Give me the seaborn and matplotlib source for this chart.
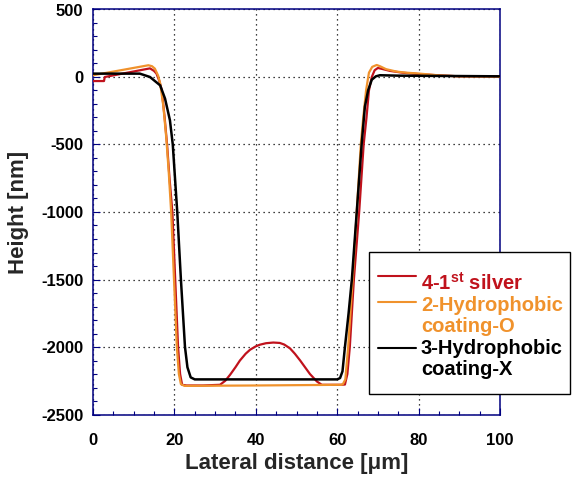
import matplotlib
matplotlib.use("Agg")
import matplotlib.pyplot as plt
import seaborn as sns
import pandas as pd
from matplotlib.lines import Line2D
from matplotlib.patches import Rectangle
from matplotlib.ticker import MultipleLocator

# perfil (x em um, altura em nm)
x_red = [0, 2.7, 2.9, 14, 15, 15.6, 16.3, 16.9, 17.6, 18.2, 18.8, 19.5, 20.2, 20.9,
         21.4, 21.9, 23, 27, 31.2, 32.5, 33.7, 35, 36.1, 37.5, 38.6, 40, 41, 42.5,
         44.3, 45.9, 47, 48.4, 49.6, 50.9, 52.1, 53.3, 55, 56.2, 58, 60.7, 61.9,
         62.5, 63.1, 64.1, 65.4, 66.5, 67.2, 67.8, 68.5, 69.2, 70, 71, 73, 76, 80,
         85, 90, 100]
y_red = [-30, -30, 0, 64, 45, 25, -30, -98, -300, -500, -750, -1000, -1500, -2000,
         -2200, -2280, -2285, -2285, -2280, -2250, -2205, -2150, -2100, -2050, -2020,
         -1995, -1983, -1972, -1967, -1970, -1982, -2010, -2050, -2100, -2150, -2200,
         -2255, -2280, -2280, -2280, -2278, -2200, -2000, -1500, -1000, -500, -300,
         -100, 0, 50, 67, 60, 45, 32, 22, 12, 5, 3]

x_orange = [0, 13.6, 14.5, 15.2, 16, 16.5, 17.3, 18.0, 18.6, 19.2, 19.9, 20.6, 21.1,
            21.6, 22.5, 40, 61, 61.4, 62, 62.7, 63.8, 64.8, 65.8, 66.4, 67.1, 67.8,
            68.6, 69.7, 70.5, 72, 74.6, 77, 80.3, 85, 90, 100]
y_orange = [13, 87, 80, 62, 10, -47, -220, -450, -700, -1000, -1500, -2000, -2200,
            -2275, -2288, -2285, -2280, -2275, -2240, -2000, -1500, -1000, -500, -300,
            -98, 32, 75, 89, 80, 58, 40, 32, 25, 12, 5, 3]

x_black = [0, 11.5, 14, 16.5, 17.7, 18.9, 19.6, 20.7, 21.6, 22.6, 23.2, 24, 25, 40,
           60, 60.7, 61.3, 61.9, 62.8, 63.6, 64.8, 66, 66.8, 67.6, 68.5, 69.5, 70.5,
           75, 100]
y_black = [25, 25, 0, -62, -160, -320, -500, -1000, -1500, -2000, -2150, -2225, -2240,
           -2240, -2240, -2230, -2180, -2000, -1750, -1500, -1000, -500, -220, -98,
           -20, 5, 13, 10, 5]

amostras = ["4-1st silver", "2-Hydrophobic coating-O", "3-Hydrophobic coating-X"]
cores = ["#c0121c", "#f0922c", "#000000"]
rotulos = ["4-1$^{\\mathbf{st}}$ silver", "2-Hydrophobic\ncoating-O", "3-Hydrophobic\ncoating-X"]

df = pd.concat([
    pd.DataFrame({"x": x_red, "altura": y_red, "amostra": amostras[0]}),
    pd.DataFrame({"x": x_orange, "altura": y_orange, "amostra": amostras[1]}),
    pd.DataFrame({"x": x_black, "altura": y_black, "amostra": amostras[2]}),
])

sns.set_style("white")
plt.rcParams["font.family"] = ["Liberation Sans", "DejaVu Sans"]
plt.rcParams["mathtext.fontset"] = "custom"
plt.rcParams["mathtext.bf"] = "Liberation Sans:bold"
plt.rcParams["mathtext.rm"] = "Liberation Sans:bold"
plt.rcParams["axes.unicode_minus"] = False

fig = plt.figure(figsize=(5.77, 4.86), dpi=100)
ax = fig.add_axes([93 / 577, 1 - 414.5 / 486, 407 / 577, 405 / 486])

espessura = {amostras[0]: 1.6, amostras[1]: 1.6, amostras[2]: 1.8}
for nome, cor in zip(amostras, cores):
    sub = df[df["amostra"] == nome]
    sns.lineplot(data=sub, x="x", y="altura", color=cor, lw=espessura[nome],
                 estimator=None, sort=False, ax=ax, zorder=3)

ax.set_xlim(0, 100)
ax.set_ylim(-2500, 500)
ax.xaxis.set_major_locator(MultipleLocator(20))
ax.xaxis.set_minor_locator(MultipleLocator(5))
ax.yaxis.set_major_locator(MultipleLocator(500))
ax.yaxis.set_minor_locator(MultipleLocator(100))

navy = "#000080"
for s in ax.spines.values():
    s.set_color(navy)
    s.set_linewidth(1.1)
ax.tick_params(which="both", direction="in", colors=navy, labelcolor="black",
               left=True, bottom=True, top=False, right=False)
ax.tick_params(which="major", length=5, width=0.8)
ax.tick_params(which="minor", length=3, width=0.8)
ax.tick_params(axis="y", pad=7)
ax.tick_params(axis="x", pad=13)
for lab in ax.get_xticklabels() + ax.get_yticklabels():
    lab.set_fontweight("bold")
    lab.set_fontsize(12)

ax.grid(True, which="major", color="black", linestyle=(0, (1, 3)), linewidth=0.9)
ax.set_axisbelow(True)

ax.set_xlabel("Lateral distance [\u03bcm]", fontsize=16, fontweight="bold")
ax.set_ylabel("Height [nm]", fontsize=16, fontweight="bold")
ax.xaxis.set_label_coords(0.5, -0.094)
ax.yaxis.set_label_coords(-0.158, 0.5)

# legenda desenhada a mao (linha alinhada com a primeira linha do rotulo)
fig.patches.append(Rectangle((369 / 577, 1 - 394 / 486), 201 / 577, 142 / 486,
                             transform=fig.transFigure, facecolor="white",
                             edgecolor="black", linewidth=1.0, zorder=5))
linhas_y = [276, 302, 348]
texto_y = [283, 316, 359]
for cor, rot, yy, ty in zip(cores, rotulos, linhas_y, texto_y):
    fig.lines.append(Line2D([378 / 577, 416 / 577], [1 - yy / 486] * 2,
                            transform=fig.transFigure, color=cor, lw=1.5, zorder=6))
    fig.text(421 / 577, 1 - ty / 486, rot, color=cor, fontsize=14.5,
             fontweight="bold", va="center", ha="left", linespacing=1.1, zorder=7)

plt.savefig("out.png", dpi=100)
